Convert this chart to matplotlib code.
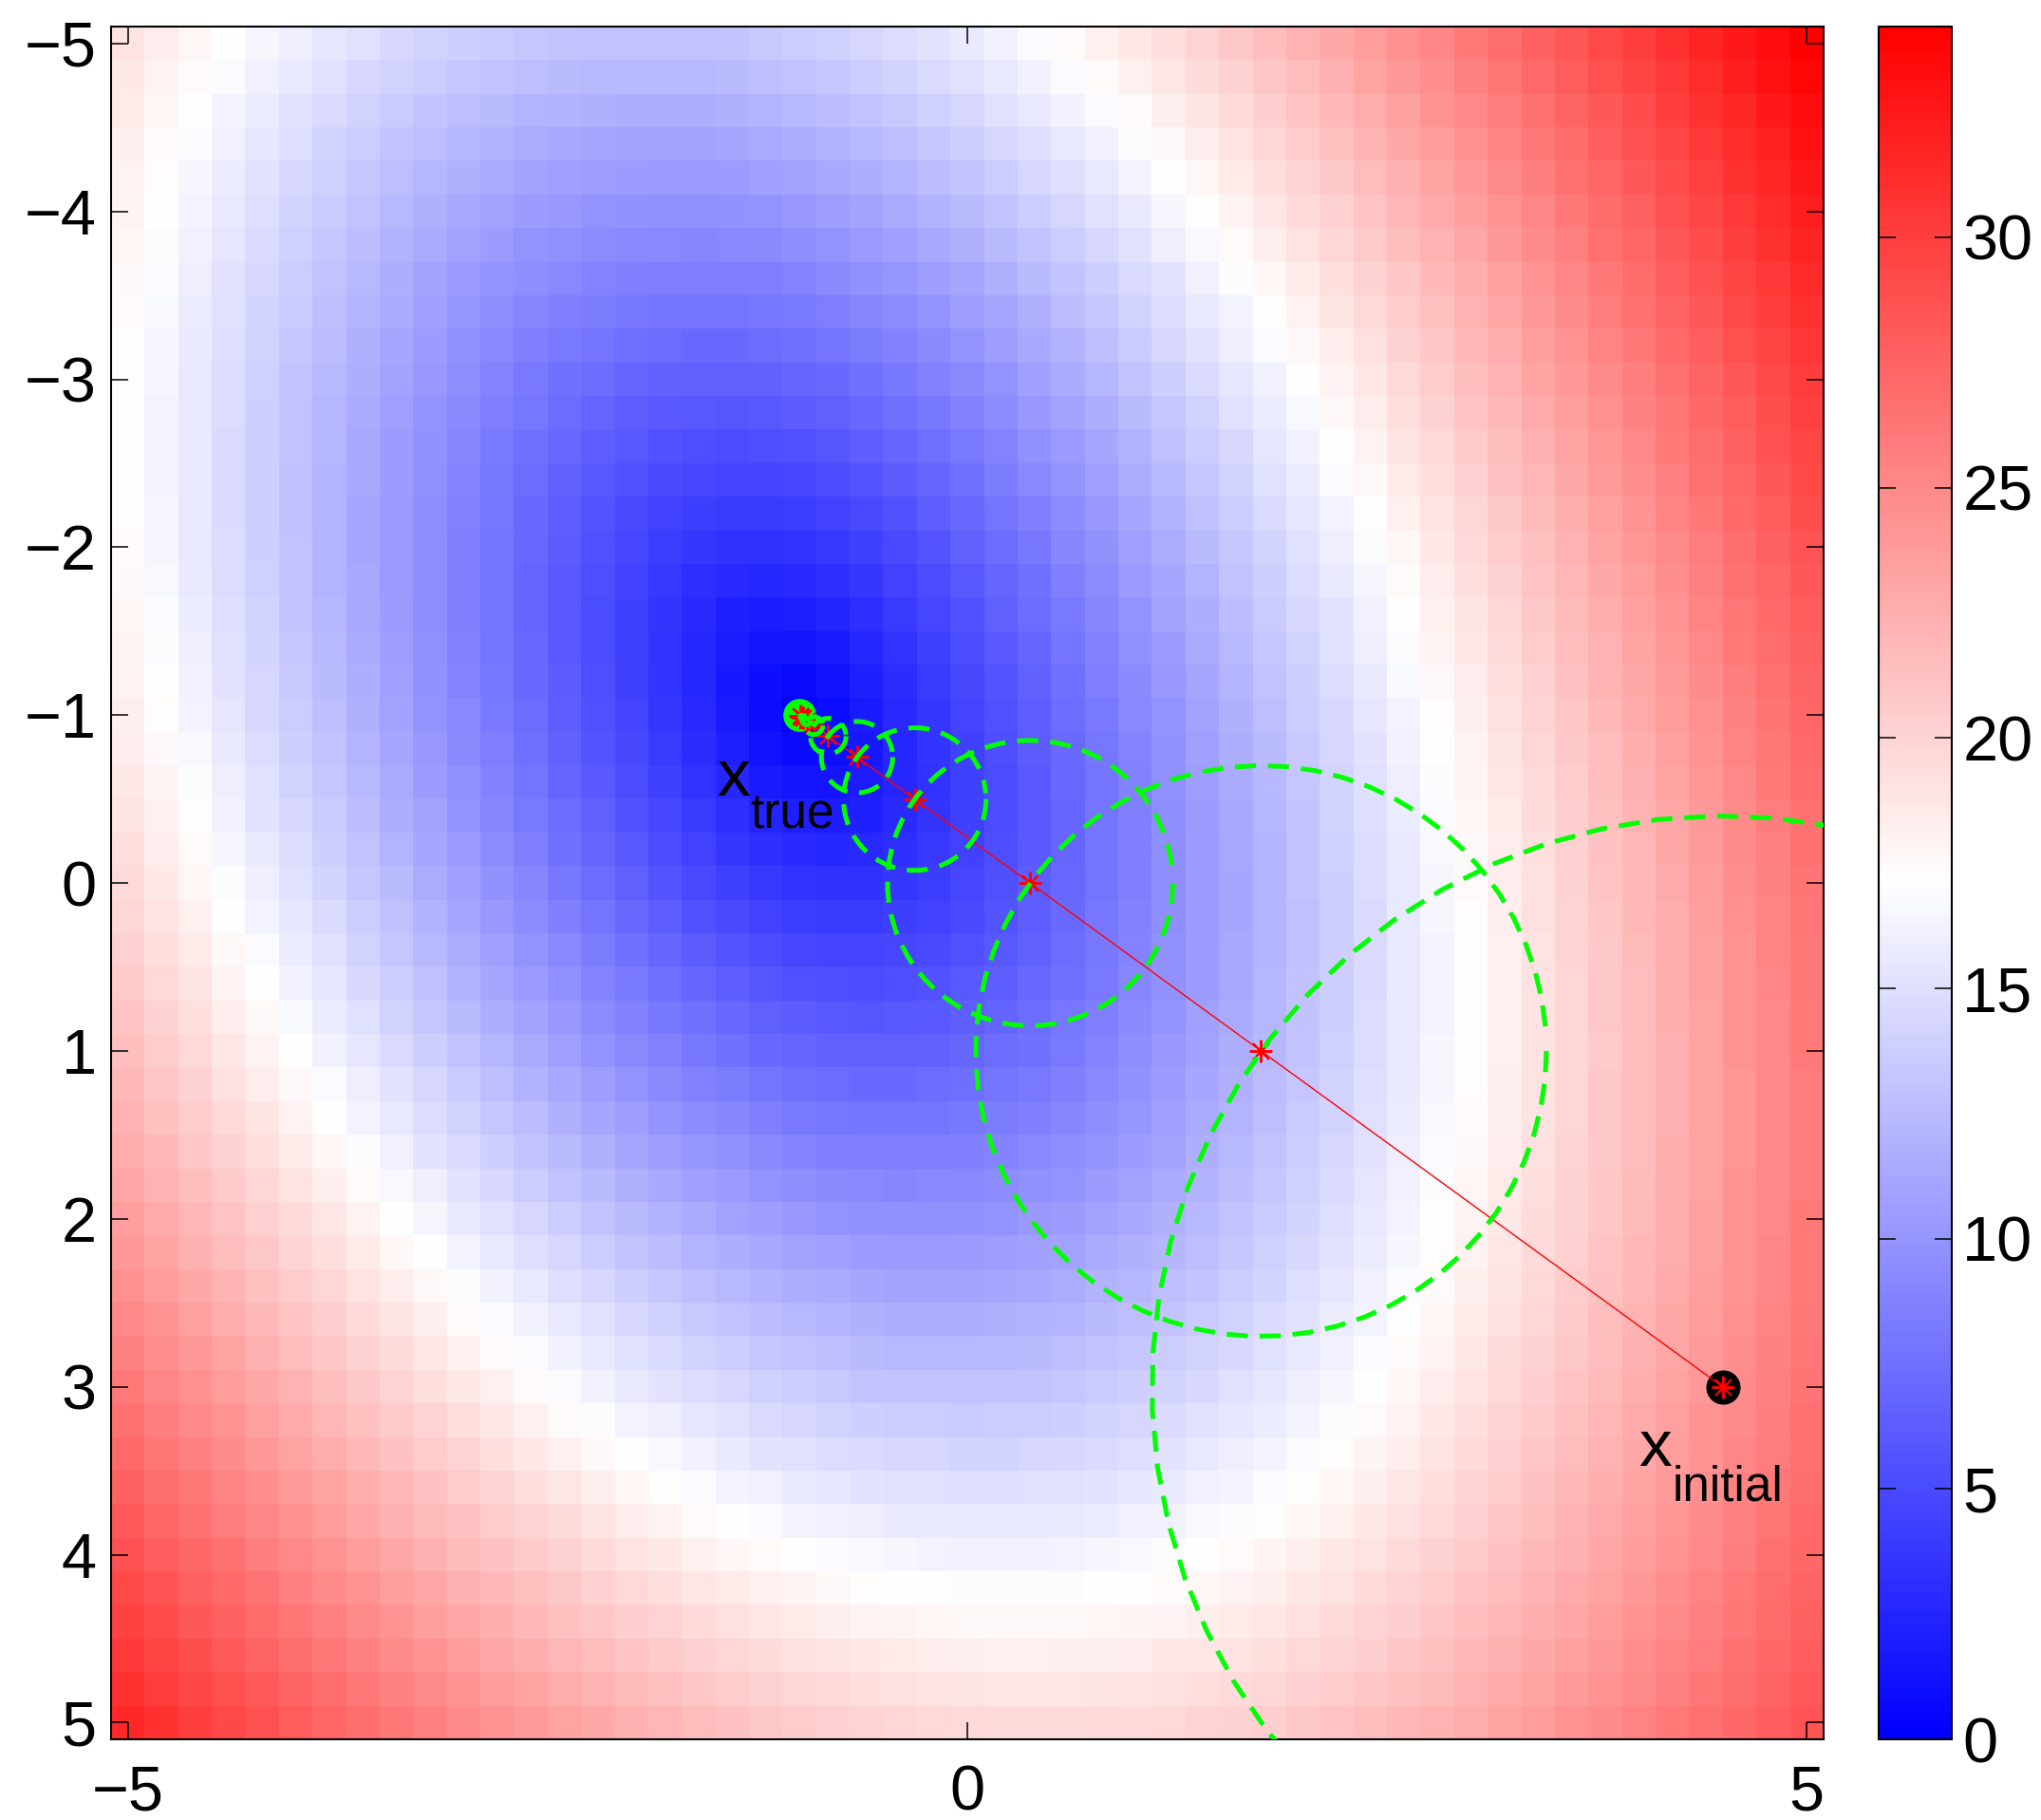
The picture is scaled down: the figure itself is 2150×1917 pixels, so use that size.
import numpy as np
import matplotlib
matplotlib.use("Agg")
import matplotlib.pyplot as plt
from matplotlib.colors import LinearSegmentedColormap

plt.rcParams['font.family'] = ['Liberation Sans', 'DejaVu Sans']
plt.rcParams['lines.scale_dashes'] = False

# cost surface f(p) = sqrt((p - x_true)' M (p - x_true)) on a 0.2 grid
x_true = [-1.0, -1.0]
cost_M = [[20.7, -4.95], [-4.95, 11.7]]
grid_lim = 5.0
grid_step = 0.2

# iterates, starting from x_initial
path_x = [4.5, 1.75, 0.375, -0.3125, -0.656, -0.828, -0.914, -0.957, -0.979, -0.989, -0.995]
path_y = [3.0, 1.0, 0.0, -0.5, -0.75, -0.875, -0.9375, -0.969, -0.984, -0.992, -0.996]

xticks = [-5, 0, 5]
yticks = [-5, -4, -3, -2, -1, 0, 1, 2, 3, 4, 5]
cbar_ticks = [0, 5, 10, 15, 20, 25, 30]

g = np.arange(-grid_lim, grid_lim + 1e-9, grid_step)
X, Y = np.meshgrid(g, g)
dx = X - x_true[0]
dy = Y - x_true[1]
Z = np.sqrt(cost_M[0][0] * dx**2 + 2 * cost_M[0][1] * dx * dy + cost_M[1][1] * dy**2)

cmap = LinearSegmentedColormap.from_list('bwr', [(0, 0, 1), (1, 1, 1), (1, 0, 0)], N=256)

fig = plt.figure(figsize=(21.5, 19.17), dpi=100)
ax = fig.add_axes([0.0544, 0.0443, 0.839, 0.941])

half = grid_step / 2
ext = (-grid_lim - half, grid_lim + half, grid_lim + half, -grid_lim - half)
im = ax.imshow(Z, extent=ext, origin='upper', cmap=cmap, vmin=0, vmax=Z.max(),
               interpolation='nearest', aspect='auto', zorder=0)

# start / end points
ax.plot(x_true[0], x_true[1], 'o', color=(0, 1, 0), mec=(0, 1, 0), ms=24, zorder=2)
ax.plot(path_x[0], path_y[0], 'o', color='k', mec='k', ms=25, zorder=2)

# descent path
ax.plot(path_x, path_y, color='r', lw=1.0, marker=(8, 2, 0), ms=17, mew=1.4, zorder=3)

# step-size circles around each iterate
t = np.arange(0, 2 * np.pi, 0.1)
for k in range(len(path_x) - 1):
    r = np.hypot(path_x[k + 1] - path_x[k], path_y[k + 1] - path_y[k])
    ax.plot(path_x[k] + r * np.cos(t), path_y[k] + r * np.sin(t),
            color=(0, 1, 0), lw=3.6, dashes=(16, 9), zorder=4)

# labels
ax.text(-1.489, -0.523, 'x', fontsize=50, ha='left', va='baseline', zorder=5)
ax.annotate('true', xy=(-1.489, -0.523), xytext=(25, -25), textcoords='offset points',
            fontsize=37, ha='left', va='baseline', zorder=5)
ax.text(4.002, 3.472, 'x', fontsize=50, ha='left', va='baseline', zorder=5)
ax.annotate('initial', xy=(4.002, 3.472), xytext=(25, -26), textcoords='offset points',
            fontsize=37, ha='left', va='baseline', zorder=5)

ax.set_xlim(ext[0], ext[1])
ax.set_ylim(ext[2], ext[3])
ax.set_xticks(xticks)
ax.set_yticks(yticks)
ax.tick_params(direction='in', length=13, width=1.1, top=True, right=True, labelsize=48)
ax.tick_params(axis='x', pad=19)
ax.tick_params(axis='y', pad=11)
for s in ax.spines.values():
    s.set_linewidth(1.5)

cax = fig.add_axes([0.9205, 0.0443, 0.0358, 0.941])
cb = fig.colorbar(im, cax=cax, ticks=cbar_ticks)
cb.ax.tick_params(direction='in', length=13, width=1.1, left=True, right=True,
                  labelsize=48, pad=8)
cb.outline.set_linewidth(1.5)

fig.savefig('out.png', dpi=100)
